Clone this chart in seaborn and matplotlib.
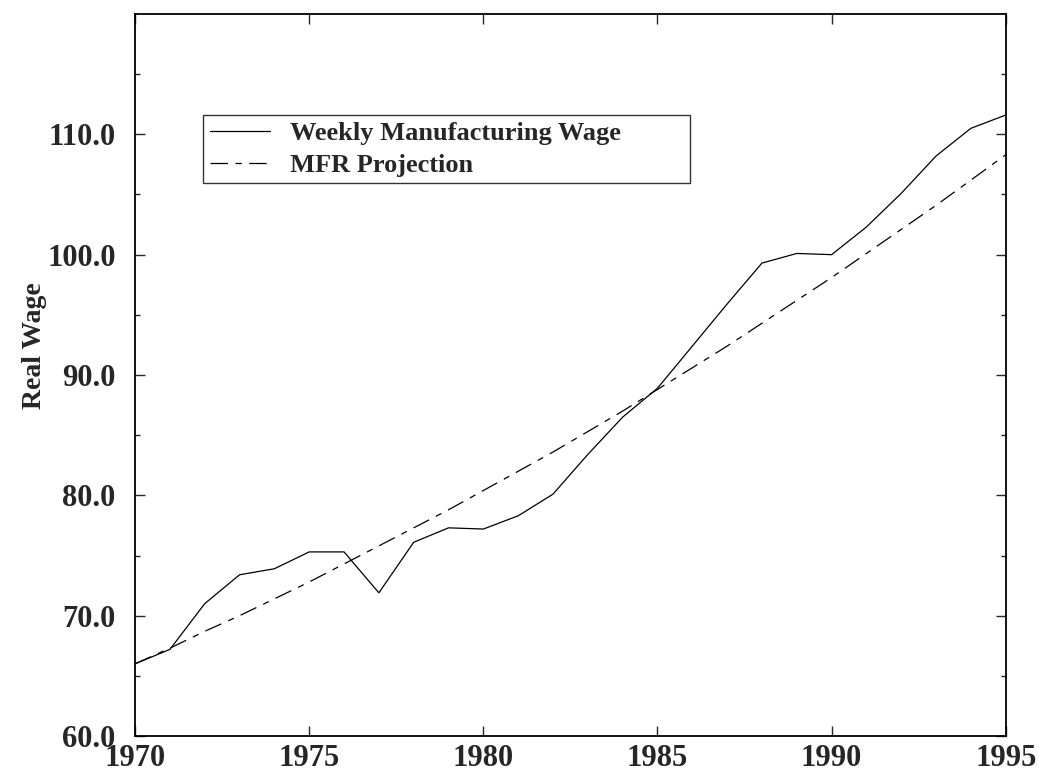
import matplotlib
matplotlib.use("Agg")
import matplotlib.pyplot as plt
import seaborn as sns
import pandas as pd

# values
years = list(range(1970, 1996))
wage = [66.0, 67.2, 71.0, 73.4, 73.9, 75.3, 75.3, 71.9, 76.1, 77.3,
        77.2, 78.3, 80.1, 83.4, 86.5, 88.9, 92.4, 95.9, 99.3, 100.1,
        100.0, 102.3, 105.1, 108.2, 110.5, 111.6]
projection = [66.0, 67.3, 68.7, 70.0, 71.4, 72.8, 74.3, 75.8, 77.3, 78.8,
              80.4, 82.0, 83.6, 85.3, 87.0, 88.8, 90.6, 92.4, 94.3, 96.2,
              98.1, 100.1, 102.1, 104.1, 106.2, 108.3]
y_ticks = [60, 70, 80, 90, 100, 110]
x_ticks = [1970, 1975, 1980, 1985, 1990, 1995]

df = pd.DataFrame({"year": years, "wage": wage, "projection": projection})

sns.set_style("ticks")
plt.rcParams['font.family'] = ['Liberation Serif', 'DejaVu Serif']
plt.rcParams['font.weight'] = 'bold'

fig = plt.figure(figsize=(10.39, 7.76), dpi=100)
ax = fig.add_axes([0.130, 0.0515, 0.838, 0.9305])

sns.lineplot(data=df, x="year", y="wage", ax=ax, color="black",
             linewidth=0.9, label="Weekly Manufacturing Wage")
sns.lineplot(data=df, x="year", y="projection", ax=ax, color="black",
             linewidth=0.9, linestyle=(0, (14, 6, 5, 6)),
             label="MFR Projection")

ax.set_xlim(1970, 1995)
ax.set_ylim(60, 120)
ax.set_xticks(x_ticks)
ax.set_xticklabels([str(x) for x in x_ticks])
ax.set_yticks(y_ticks)
ax.set_yticklabels(["%.1f" % y for y in y_ticks])
ax.set_yticks([65, 75, 85, 95, 105, 115], minor=True)

ax.tick_params(axis='both', which='major', direction='in', length=7.2,
               width=1.0, labelsize=22, top=True, right=True)
ax.tick_params(axis='y', which='minor', direction='in', length=3.6,
               width=1.0, left=True, right=True)
ax.tick_params(axis='x', which='major', pad=6)
ax.tick_params(axis='y', which='major', pad=14)
for lbl in ax.get_xticklabels() + ax.get_yticklabels():
    lbl.set_fontweight('bold')

for sp in ax.spines.values():
    sp.set_visible(True)
    sp.set_linewidth(1.3)
    sp.set_color('black')

ax.set_xlabel("")
ax.set_ylabel("Real Wage", fontsize=20, fontweight='bold')
ax.yaxis.set_label_coords(-0.101, 0.54)

leg = ax.legend(loc='upper left', bbox_to_anchor=(0.078, 0.766, 0.559, 0.094),
                mode='expand', fontsize=19, frameon=True, fancybox=False,
                handlelength=2.3, handletextpad=0.75, borderpad=0.25,
                labelspacing=0.31, borderaxespad=0)
leg.get_frame().set_edgecolor('black')
leg.get_frame().set_linewidth(1.0)
for t in leg.get_texts():
    t.set_fontweight('bold')

fig.savefig("out.png", dpi=100)
